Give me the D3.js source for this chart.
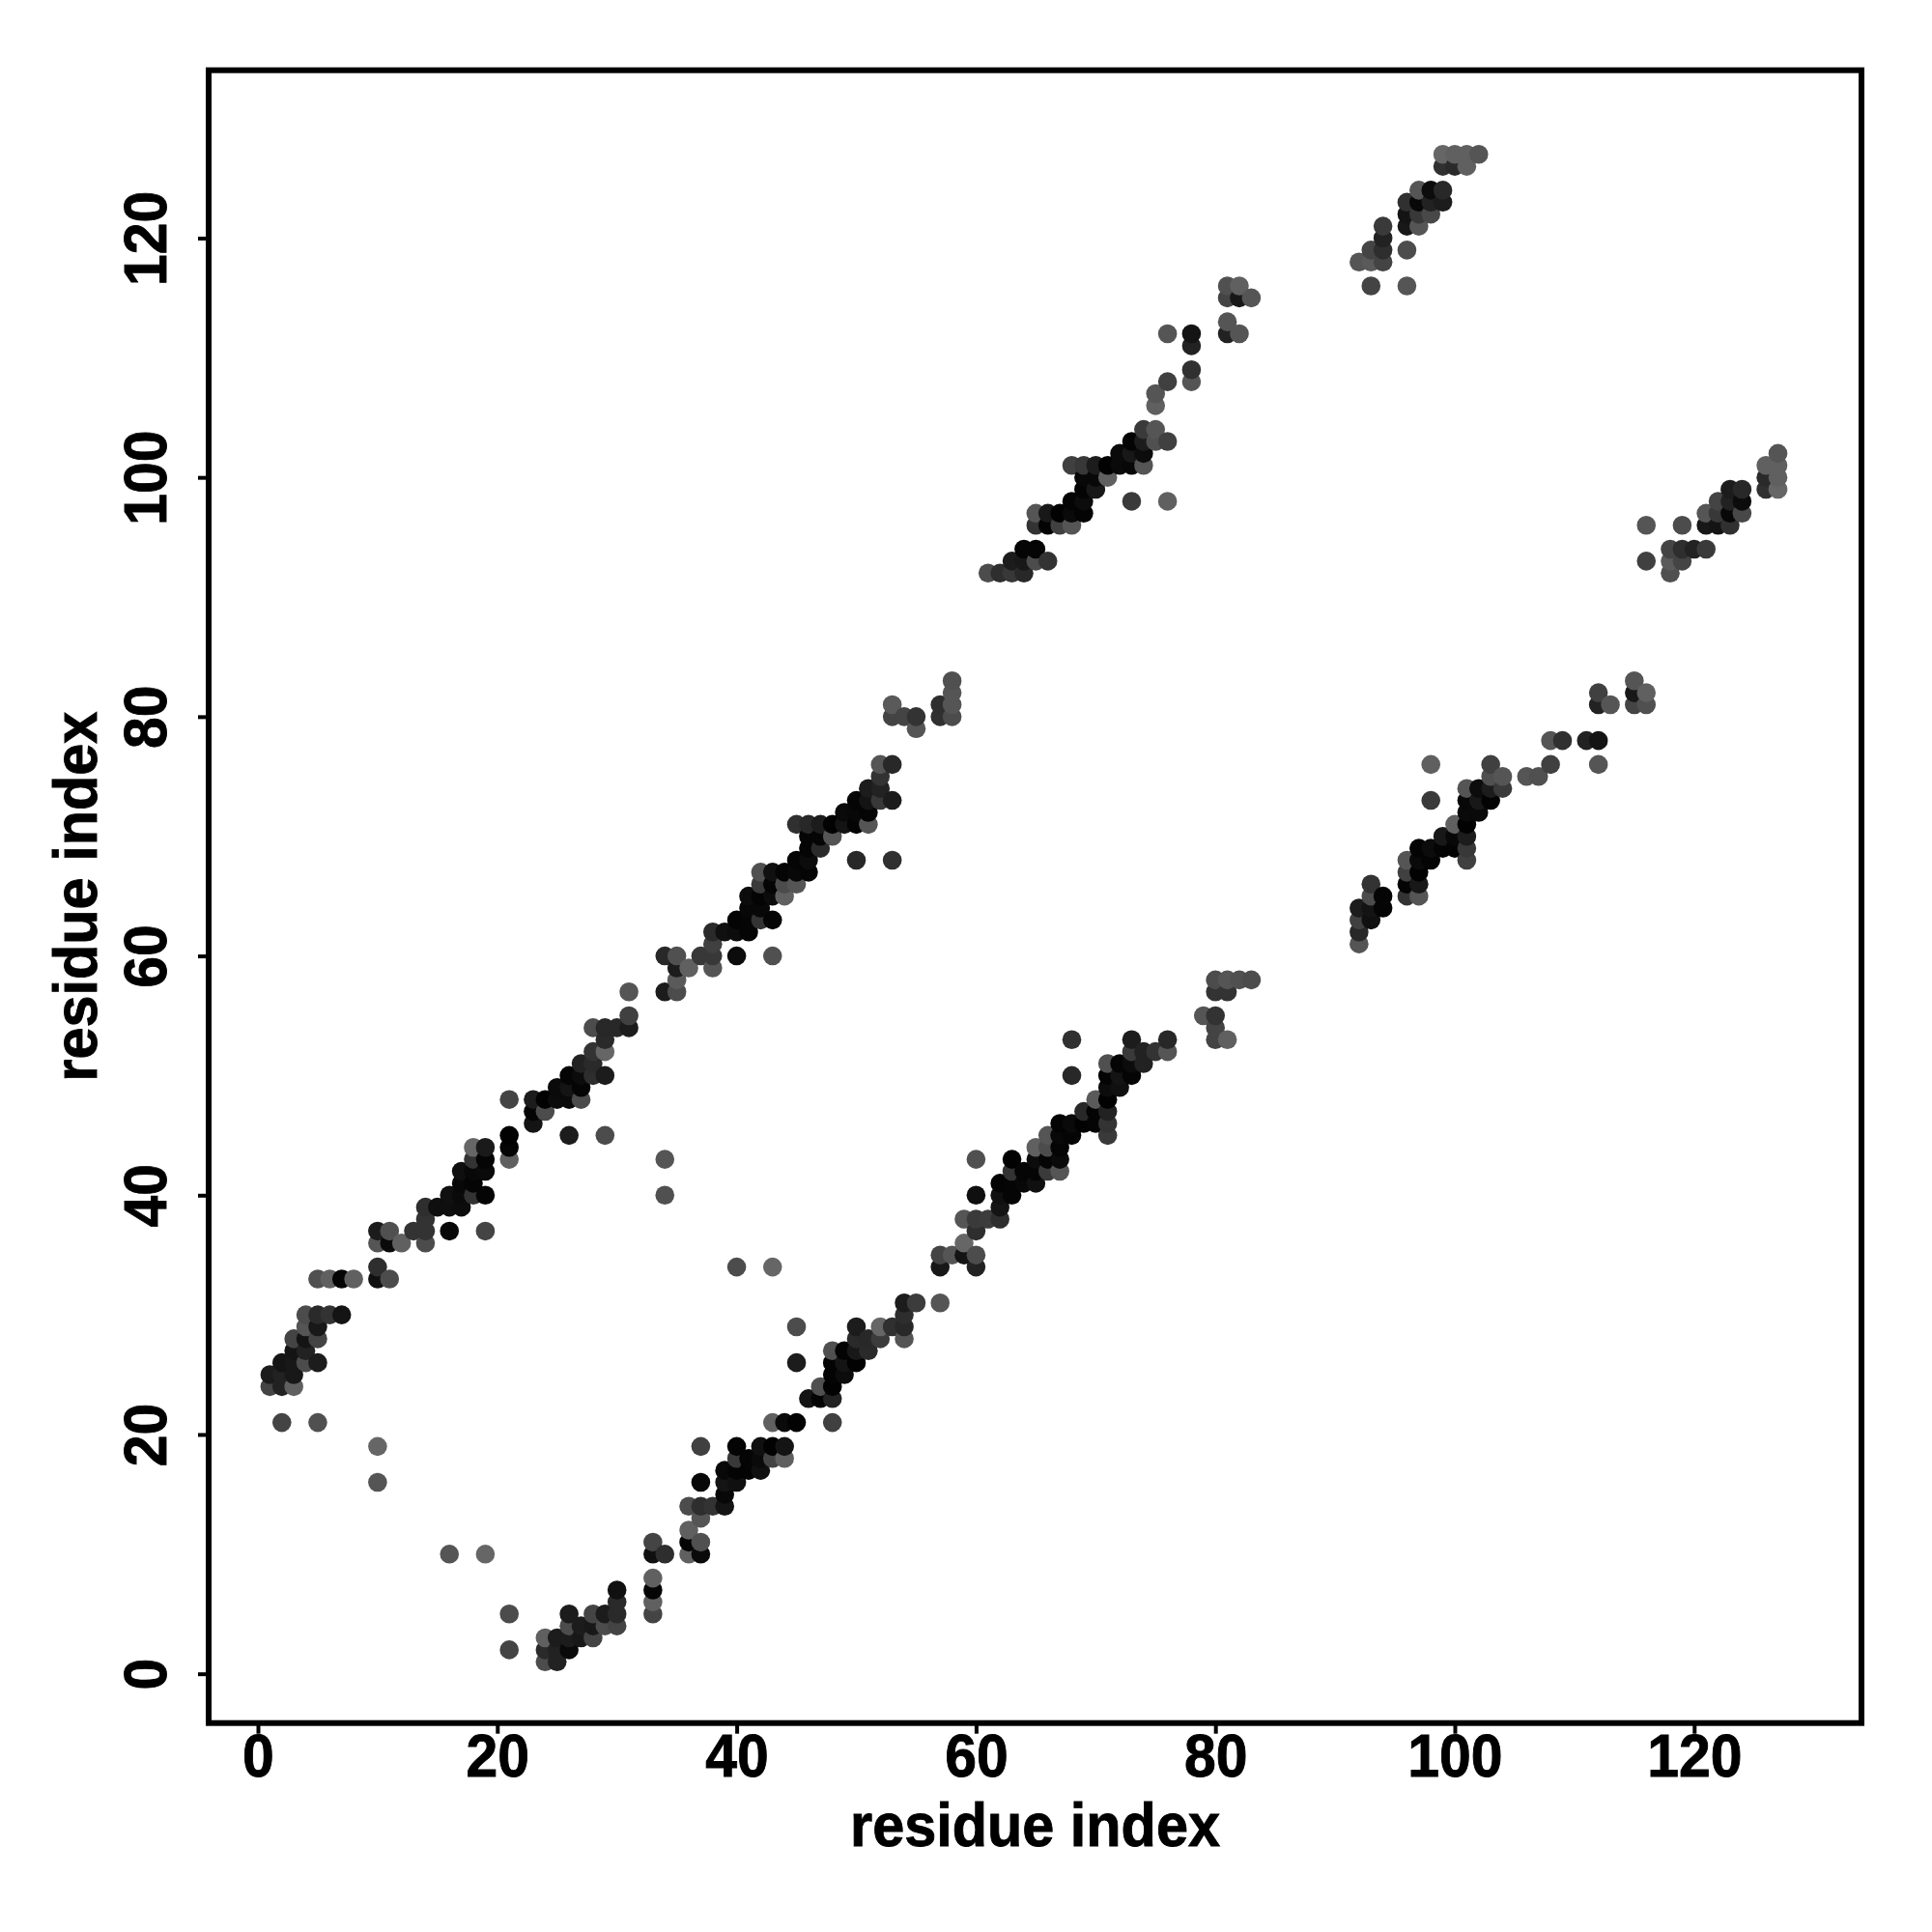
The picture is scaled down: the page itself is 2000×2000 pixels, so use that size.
<!DOCTYPE html>
<html><head><meta charset="utf-8">
<script src="https://cdn.jsdelivr.net/npm/d3@7"></script>
<style>html,body{margin:0;padding:0;background:#fff}svg{display:block}</style>
</head><body><svg id="chart" width="2000" height="2000"></svg>
<script>
// each contact: [residue i, residue j, level]; level 0 = strongest
const offDiagonal = [[2,21,68],[5,21,80],[10,16,85],[10,19,102],[16,10,85],[19,10,102],[21,2,68],[21,5,76],[34,40,80],[34,43,85],[40,34,76],[43,34,102]];
const bandA = [[1,24,68],[1,25,28],[2,24,34],[2,25,34],[2,26,20],[3,24,96],[3,25,24],[3,26,24],[3,27,20],[3,28,68],[4,26,76],[4,27,34],[4,28,20],[4,29,85],[4,30,76],[5,26,28],[5,28,68],[5,29,24],[5,30,42],[5,33,80],[6,30,51],[6,33,96],[7,30,20],[7,33,5],[8,33,96],[10,33,16],[10,34,46],[10,36,85],[10,37,28],[11,33,76],[11,36,10],[11,37,80],[12,36,96],[13,37,51],[14,36,76],[14,37,51],[14,38,51],[14,39,46],[15,39,15],[16,37,8],[16,39,15],[16,40,16],[17,39,12],[17,40,10],[17,41,8],[17,42,15],[18,40,51],[18,41,5],[18,42,8],[18,43,51],[18,44,102],[19,37,68],[19,40,5],[19,42,10],[19,43,5],[19,44,26],[21,43,96],[21,44,5],[21,45,2],[21,48,68],[23,46,20],[23,47,5],[23,48,28],[24,47,76],[24,48,2],[25,48,12],[25,49,10],[26,45,28],[26,48,10],[26,49,20],[26,50,5],[27,48,76],[27,49,5],[27,50,12],[27,51,34],[28,50,46],[28,51,42],[28,52,51],[28,54,76],[29,45,76],[29,50,28],[29,52,102],[29,53,42],[29,54,40],[30,54,40],[31,54,28],[31,55,64],[31,57,85],[34,57,28],[34,60,40],[35,57,76],[35,58,90],[35,59,28],[35,60,80],[36,59,96],[37,60,56],[38,59,85],[38,60,56],[38,61,64],[38,62,42],[39,62,16],[40,60,12],[40,62,12],[40,63,4],[41,62,5],[41,63,5],[41,64,8],[41,65,12],[42,63,51],[42,64,8],[42,65,4],[42,66,58],[42,67,80],[43,60,80],[43,63,5],[43,65,12],[43,66,5],[43,67,16],[44,65,96],[44,66,76],[44,67,5],[45,66,85],[45,67,8],[45,68,5],[45,71,48],[46,67,5],[46,68,12],[46,69,5],[46,70,5],[46,71,40],[47,69,42],[47,70,5],[47,71,28],[48,70,85],[48,71,2],[49,71,20],[49,72,10],[50,68,40],[50,71,4],[50,72,8],[50,73,5],[51,71,85],[51,72,5],[51,73,20],[51,74,28],[52,73,56],[52,74,34],[52,75,51],[52,76,85],[53,68,48],[53,73,28],[53,76,40],[53,80,68],[53,81,90],[54,80,68],[55,79,85],[55,80,51],[57,80,48],[57,81,46],[58,80,76],[58,81,85],[58,82,85],[58,83,80]];
const bandB = [[24,1,76],[24,2,42],[24,3,96],[25,1,34],[25,2,34],[25,3,28],[26,2,10],[26,3,28],[26,4,76],[26,5,28],[27,3,24],[27,4,28],[28,3,68],[28,4,24],[28,5,68],[29,4,76],[29,5,28],[30,4,68],[30,5,42],[30,6,42],[30,7,16],[33,5,68],[33,6,96],[33,7,5],[33,8,96],[33,10,16],[33,11,68],[34,10,46],[36,10,96],[36,11,5],[36,12,96],[36,14,76],[37,10,10],[37,11,80],[37,13,85],[37,14,46],[37,16,8],[37,19,64],[38,14,51],[39,14,20],[39,15,8],[39,16,20],[39,17,8],[40,16,16],[40,17,4],[40,18,56],[40,19,4],[41,17,4],[41,18,5],[42,17,16],[42,18,10],[42,19,16],[43,18,68],[43,19,2],[43,21,96],[44,18,96],[44,19,20],[44,21,10],[45,21,2],[45,26,28],[45,29,76],[46,23,20],[47,23,4],[47,24,80],[48,21,64],[48,23,34],[48,24,2],[48,25,4],[48,26,4],[48,27,80],[49,25,12],[49,26,20],[49,27,4],[50,26,2],[50,27,24],[50,28,42],[50,29,28],[51,27,42],[51,28,40],[52,28,60],[52,29,102],[53,29,48],[54,28,85],[54,29,40],[54,30,46],[54,31,28],[55,31,60],[57,31,85],[57,34,24],[57,35,68],[58,35,85],[59,35,20],[59,36,102],[59,38,85],[60,34,34],[60,35,76],[60,37,46],[60,38,58],[60,40,15],[60,43,80],[61,38,60],[62,38,46],[62,39,20],[62,40,16],[62,41,4],[63,40,5],[63,41,5],[63,42,51],[63,43,2],[64,41,8],[64,42,5],[65,41,16],[65,42,5],[65,43,12],[65,44,96],[66,42,58],[66,43,5],[66,44,76],[66,45,85],[67,42,85],[67,43,10],[67,44,5],[67,45,8],[67,46,4],[68,45,5],[68,46,10],[68,50,40],[68,53,48],[69,46,2],[69,47,40],[70,46,5],[70,47,4],[70,48,90],[71,45,58],[71,46,51],[71,47,34],[71,48,2],[71,49,12],[71,50,4],[71,51,80],[72,49,16],[72,50,20],[72,51,5],[73,50,5],[73,51,12],[73,52,58],[73,53,28],[74,51,34],[74,52,34],[75,52,51],[76,52,85],[76,53,40],[79,55,85],[80,53,68],[80,54,68],[80,55,51],[80,57,51],[80,58,76],[81,53,96],[81,57,51],[81,58,85],[82,58,80],[83,58,76]];
const bandC = [[61,92,76],[62,92,46],[63,92,56],[63,93,28],[64,92,40],[64,93,24],[64,94,5],[65,93,76],[65,94,5],[65,96,51],[65,97,85],[66,93,51],[66,96,4],[66,97,24],[67,96,64],[67,97,2],[68,96,85],[68,97,10],[68,98,4],[68,101,64],[69,97,4],[69,98,12],[69,99,4],[69,100,8],[69,101,56],[70,99,24],[70,100,8],[70,101,28],[71,100,96],[71,101,2],[72,101,10],[72,102,10],[73,98,58],[73,101,8],[73,102,24],[73,103,4],[74,101,85],[74,102,12],[74,103,28],[74,104,58],[75,103,80],[75,104,85],[75,106,96],[75,107,85],[76,98,96],[76,103,64],[76,108,64],[76,112,85],[78,108,85],[78,109,48],[78,111,34],[78,112,20],[81,112,34],[81,113,85],[81,115,68],[81,116,80],[82,112,85],[82,115,24],[82,116,96],[83,115,85]];
const bandD = [[92,61,85],[92,62,40],[92,63,64],[92,64,28],[93,63,16],[93,64,20],[93,65,76],[93,66,51],[94,64,5],[94,65,5],[96,65,51],[96,66,4],[96,67,64],[96,68,85],[97,65,85],[97,66,24],[97,67,2],[97,68,10],[97,69,4],[98,68,4],[98,69,12],[98,73,58],[98,76,96],[99,69,4],[99,70,24],[100,69,4],[100,70,8],[100,71,96],[101,68,64],[101,69,56],[101,70,28],[101,71,2],[101,72,10],[101,73,8],[101,74,85],[102,72,10],[102,73,24],[102,74,12],[103,73,4],[103,74,28],[103,75,80],[103,76,64],[104,74,58],[104,75,85],[106,75,85],[107,75,80],[108,76,64],[108,78,85],[109,78,48],[111,78,34],[112,76,85],[112,78,20],[112,81,34],[112,82,64],[113,81,85],[115,81,68],[115,82,24],[115,83,85],[116,81,80],[116,82,96]];
const bandE = [[92,118,85],[93,116,68],[93,118,90],[93,119,68],[94,118,68],[94,119,46],[94,120,34],[94,121,58],[96,116,85],[96,119,76],[96,121,24],[96,122,20],[96,123,48],[97,121,85],[97,122,56],[97,123,8],[97,124,85],[98,122,72],[98,123,34],[98,124,12],[99,123,28],[99,124,40],[99,126,48],[99,127,102],[100,126,42],[100,127,96],[101,126,96],[101,127,96],[102,127,85]];
const bandF = [[116,93,64],[116,96,85],[118,92,80],[118,93,90],[118,94,68],[119,93,68],[119,94,46],[119,96,76],[120,94,34],[121,94,58],[121,96,24],[121,97,85],[122,96,20],[122,97,56],[122,98,68],[123,96,48],[123,97,8],[123,98,34],[123,99,28],[124,97,72],[124,98,12],[124,99,40],[126,99,48],[126,100,42],[126,101,96],[127,99,102],[127,100,96],[127,101,96],[127,102,85]];
const tickValues = [0,20,40,60,80,100,120];
const axisTitle = "residue index";

const contacts = [...offDiagonal,...bandA,...bandB,...bandC,...bandD,...bandE,...bandF]
  .map(([i,j,level])=>({i,j,level}))
  .sort((a,b)=>d3.ascending(a.i,b.i)||d3.ascending(a.j,b.j));

const svg = d3.select("#chart");
const font = "'Liberation Sans', Arial, sans-serif";
const L=216,R=1927,T=72.7,B=1783.7;
const x = d3.scaleLinear().domain([-4.116,133.98]).range([L,R]);
const y = d3.scaleLinear().domain([-4.12,134.03]).range([B,T]);
const shade = d3.scaleLinear().domain([0,255]).range(["#000","#fff"]);

svg.append("rect").attr("width",2000).attr("height",2000).attr("fill","#fff");
svg.append("g").selectAll("circle").data(contacts).join("circle")
  .attr("cx",d=>x(d.i)).attr("cy",d=>y(d.j)).attr("r",9.8).attr("fill",d=>shade(d.level));

const gx = svg.append("g").attr("transform",`translate(0,${B})`)
  .call(d3.axisBottom(x).tickValues(tickValues).tickSize(11).tickFormat(d3.format("d")));
const gy = svg.append("g").attr("transform",`translate(${L},0)`)
  .call(d3.axisLeft(y).tickValues(tickValues).tickSize(11).tickFormat(d3.format("d")));
[gx,gy].forEach(g=>{
  g.select(".domain").remove();
  g.selectAll(".tick line").attr("stroke","#000").attr("stroke-width",4);
  g.selectAll("text").attr("fill","#000").attr("stroke","#000").attr("stroke-width",0.9)
    .attr("font-family",font).attr("font-weight","bold").attr("font-size",63);
});
gx.selectAll("text").attr("y",0).attr("dy",0).attr("text-anchor","middle")
  .attr("transform",`translate(0,${1839-B}) scale(0.935,1)`);
gy.selectAll("text").attr("x",0).attr("dy",0).attr("y",0).attr("text-anchor","middle")
  .attr("transform",`translate(${171.5-L},0) rotate(-90) scale(0.935,1)`);

svg.append("rect").attr("x",L).attr("y",T).attr("width",R-L).attr("height",B-T)
  .attr("fill","none").attr("stroke","#000").attr("stroke-width",6);

[`translate(${(L+R)/2},1911) scale(0.943,1)`,`translate(100,${(T+B)/2}) rotate(-90) scale(0.943,1)`].forEach(t=>
  svg.append("text").attr("transform",t).attr("text-anchor","middle").attr("fill","#000")
    .attr("stroke","#000").attr("stroke-width",0.9)
    .attr("font-family",font).attr("font-weight","bold").attr("font-size",63).text(axisTitle));
</script></body></html>
